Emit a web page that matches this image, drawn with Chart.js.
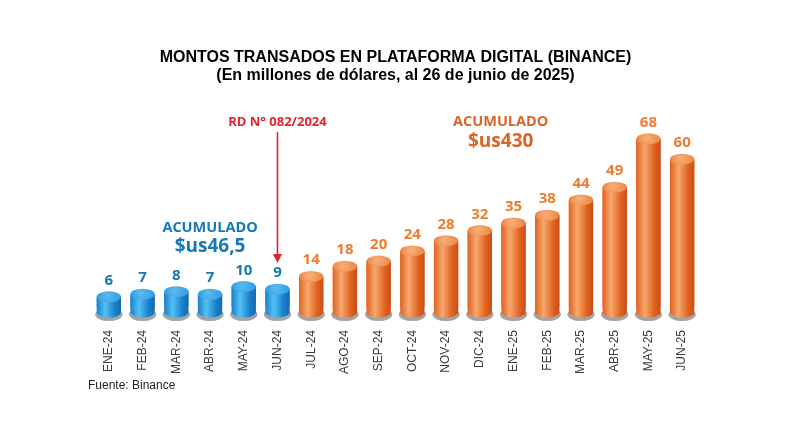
<!DOCTYPE html>
<html>
<head>
<meta charset="utf-8">
<script src="https://cdn.jsdelivr.net/npm/chart.js@4.4.1/dist/chart.umd.min.js"></script>
<style>
  html, body { margin: 0; padding: 0; background: #fff; }
</style>
</head>
<body>
<canvas id="montos" width="792" height="445"></canvas>
<script>
const meses = ['ENE-24','FEB-24','MAR-24','ABR-24','MAY-24','JUN-24','JUL-24','AGO-24','SEP-24','OCT-24',
  'NOV-24','DIC-24','ENE-25','FEB-25','MAR-25','ABR-25','MAY-25','JUN-25'];
const montos = [6, 7, 8, 7, 10, 9, 14, 18, 20, 24, 28, 32, 35, 38, 44, 49, 68, 60];
const ultimoAntesRD = 5; // JUN-24, last month before RD 082/2024
const acumAntes = '$us46,5';
const acumDespues = '$us430';

const AZUL = { dark: '#1569b3', edge: '#1b7fcc', light: '#52c2f3', cap: '#2f9de2', capHi: '#5ab8ee', text: '#1677b9' };
const NARANJA = { dark: '#c94e17', edge: '#e0621f', light: '#f7a86e', cap: '#ee8540', capHi: '#f6ad79', text: '#f07a2e' };
const RY = 5.5;

const esAntes = i => i <= ultimoAntesRD;

const cilindros = {
  id: 'cilindros',
  beforeDatasetsDraw(chart) {
    const ctx = chart.ctx;
    chart.getDatasetMeta(0).data.forEach(bar => {
      const { x, base, width } = bar.getProps(['x', 'base', 'width'], true);
      ctx.save();
      ctx.fillStyle = '#a3a3a3';
      ctx.beginPath();
      ctx.ellipse(x, base + 2.5, width / 2 + 1.5, RY + 1, 0, 0, Math.PI * 2);
      ctx.fill();
      ctx.restore();
    });
  },
  afterDatasetsDraw(chart) {
    const ctx = chart.ctx;
    chart.getDatasetMeta(0).data.forEach((bar, i) => {
      const { x, y, base, width } = bar.getProps(['x', 'y', 'base', 'width'], true);
      const c = esAntes(i) ? AZUL : NARANJA;
      const l = x - width / 2, r = x + width / 2;
      const g = ctx.createLinearGradient(l, 0, r, 0);
      g.addColorStop(0, c.edge);
      g.addColorStop(0.35, c.light);
      g.addColorStop(0.75, c.edge);
      g.addColorStop(1, c.dark);
      ctx.save();
      ctx.fillStyle = g;
      ctx.beginPath();
      ctx.ellipse(x, base, width / 2, RY, 0, 0, Math.PI);
      ctx.fill();
      ctx.fillRect(l, y, width, base - y);
      const cg = ctx.createRadialGradient(x - 2, y - 1, 1, x, y, width / 2);
      cg.addColorStop(0, c.capHi);
      cg.addColorStop(1, c.cap);
      ctx.fillStyle = cg;
      ctx.beginPath();
      ctx.ellipse(x, y, width / 2, RY, 0, 0, Math.PI * 2);
      ctx.fill();
      // value
      ctx.fillStyle = c.text;
      ctx.font = 'bold 15px "Open Sans", sans-serif';
      ctx.textAlign = 'center';
      ctx.textBaseline = 'alphabetic';
      ctx.fillText(montos[i], x, y - 12);
      ctx.restore();
    });
  },
  afterDraw(chart) {
    const ctx = chart.ctx;
    const xs = chart.scales.x;
    ctx.save();
    ctx.textAlign = 'center';
    ctx.textBaseline = 'alphabetic';

    // RD arrow over JUN-24
    const ax = xs.getPixelForValue(ultimoAntesRD);
    ctx.fillStyle = '#e2232b';
    ctx.strokeStyle = '#e2232b';
    ctx.font = 'bold 13px "Open Sans", sans-serif';
    ctx.fillText('RD N° 082/2024', ax, 126);
    ctx.lineWidth = 1.6;
    ctx.beginPath();
    ctx.moveTo(ax, 132);
    ctx.lineTo(ax, 256);
    ctx.stroke();
    ctx.beginPath();
    ctx.moveTo(ax - 4.5, 254);
    ctx.lineTo(ax + 4.5, 254);
    ctx.lineTo(ax, 263);
    ctx.closePath();
    ctx.fill();

    // accumulated, before
    const bx = xs.getPixelForValue(3);
    ctx.fillStyle = AZUL.text;
    ctx.font = 'bold 14.5px "Open Sans", sans-serif';
    ctx.fillText('ACUMULADO', bx, 232);
    ctx.font = 'bold 19px "Open Sans", sans-serif';
    ctx.fillText(acumAntes, bx, 252);

    // accumulated, after
    const ox = (xs.getPixelForValue(11) + xs.getPixelForValue(12)) / 2 + 4;
    ctx.fillStyle = '#dc6428';
    ctx.font = 'bold 14.5px "Open Sans", sans-serif';
    ctx.fillText('ACUMULADO', ox, 126);
    ctx.font = 'bold 19px "Open Sans", sans-serif';
    ctx.fillText(acumDespues, ox, 147);

    // source
    ctx.textAlign = 'left';
    ctx.textBaseline = 'middle';
    ctx.fillStyle = '#222';
    ctx.font = '12px "Liberation Sans", Arial, sans-serif';
    ctx.fillText('Fuente: Binance', 88, 386);
    ctx.restore();
  }
};

new Chart(document.getElementById('montos'), {
  type: 'bar',
  data: {
    labels: meses,
    datasets: [{
      data: montos,
      backgroundColor: montos.map((v, i) => esAntes(i) ? AZUL.edge : NARANJA.edge),
      categoryPercentage: 1,
      barPercentage: 0.72
    }]
  },
  options: {
    responsive: false,
    animation: false,
    layout: { padding: { top: 49, left: 92, right: 93, bottom: 48 } },
    plugins: {
      legend: { display: false },
      tooltip: { enabled: false },
      title: {
        display: true,
        text: ['MONTOS TRANSADOS EN PLATAFORMA DIGITAL (BINANCE)', '(En millones de dólares, al 26 de junio de 2025)'],
        color: '#000',
        font: { family: '"Liberation Sans", Arial, sans-serif', size: 16, weight: 'bold', lineHeight: 1.1 },
        padding: { top: 0, bottom: 24 }
      }
    },
    scales: {
      x: {
        grid: { display: false, drawTicks: false },
        border: { display: false },
        ticks: {
          minRotation: 90, maxRotation: 90, padding: 23,
          color: '#3a3a3a',
          font: { family: '"Liberation Sans", Arial, sans-serif', size: 12 }
        }
      },
      y: { display: false, min: 2, max: 80 }
    }
  },
  plugins: [cilindros]
});
</script>
</body>
</html>
